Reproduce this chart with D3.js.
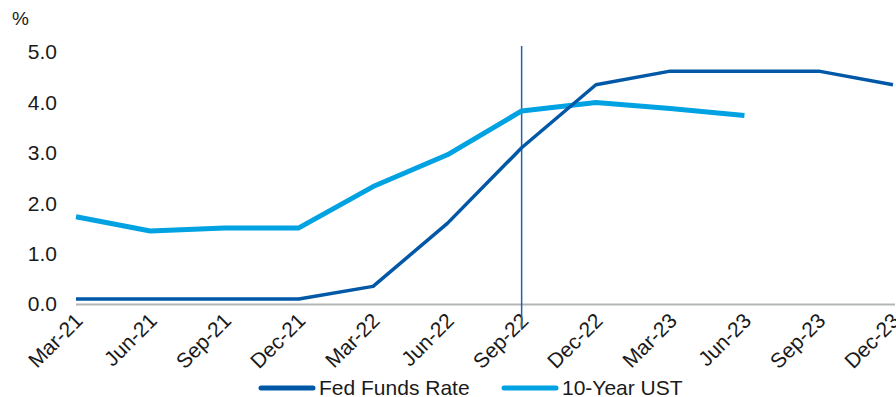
<!DOCTYPE html>
<html><head><meta charset="utf-8">
<script src="https://cdn.jsdelivr.net/npm/d3@7"></script>
<style>body{margin:0;background:#fff}svg{display:block}text{font-family:"Liberation Sans",Arial,sans-serif;fill:#1a1a1a}</style>
</head><body><svg id="c" width="896" height="397"></svg>
<script>
const categories = ["Mar-21","Jun-21","Sep-21","Dec-21","Mar-22","Jun-22","Sep-22","Dec-22","Mar-23","Jun-23","Sep-23","Dec-23"];
const fedFunds = [0.1,0.1,0.1,0.1,0.35,1.6,3.1,4.35,4.62,4.62,4.62,4.35];
const ust10 = [1.73,1.45,1.51,1.51,2.33,2.96,3.83,4.0,3.88,3.74,null,null];
const yTicks = [0,1,2,3,4,5];
const markerCategory = "Sep-22";

const svg = d3.select("#c");
const x = d3.scalePoint().domain(categories).range([76, 893]);
const y = d3.scaleLinear().domain([0,5]).range([304, 52]);

// y labels
svg.append("g").selectAll("text").data(yTicks).join("text")
  .attr("x", 57).attr("y", d => y(d)).attr("dy", "0.35em")
  .attr("text-anchor", "end").attr("font-size", 21).text(d => d.toFixed(1));
svg.append("text").attr("x", 12).attr("y", 25).attr("font-size", 19).text("%");

// baseline
svg.append("line").attr("x1", 76).attr("x2", 895).attr("y1", y(0)+0.5).attr("y2", y(0)+0.5)
  .attr("stroke", "#b3b6b6").attr("stroke-width", 2);

// x labels
svg.append("g").selectAll("text").data(categories).join("text")
  .attr("text-anchor", "end").attr("font-size", 21)
  .attr("transform", d => `translate(${x(d)+8},${322}) rotate(-45)`)
  .text(d => d);

// vertical marker
svg.append("line").attr("x1", x(markerCategory)).attr("x2", x(markerCategory))
  .attr("y1", 46).attr("y2", 330).attr("stroke", "#1b64ae").attr("stroke-width", 1.5);

const line = d3.line().defined(d => d[1] != null).x(d => x(d[0])).y(d => y(d[1]));
svg.append("path").datum(categories.map((c,i)=>[c, ust10[i]]))
  .attr("d", line).attr("fill", "none").attr("stroke", "#00a2e1").attr("stroke-width", 5)
  .attr("stroke-linejoin", "round").attr("stroke-linecap", "butt");
svg.append("path").datum(categories.map((c,i)=>[c, fedFunds[i]]))
  .attr("d", line).attr("fill", "none").attr("stroke", "#0058a6").attr("stroke-width", 3.5)
  .attr("stroke-linejoin", "round");

// legend
const leg = [{name:"Fed Funds Rate", color:"#0058a6", x:261},{name:"10-Year UST", color:"#00a2e1", x:504}];
const lg = svg.append("g").selectAll("g").data(leg).join("g");
lg.append("line").attr("x1", d=>d.x).attr("x2", d=>d.x+52).attr("y1", 388).attr("y2", 388)
  .attr("stroke", d=>d.color).attr("stroke-width", 5).attr("stroke-linecap","round");
lg.append("text").attr("x", d=>d.x+58).attr("y", 388).attr("dy","0.35em").attr("font-size", 21).text(d=>d.name);
</script></body></html>
